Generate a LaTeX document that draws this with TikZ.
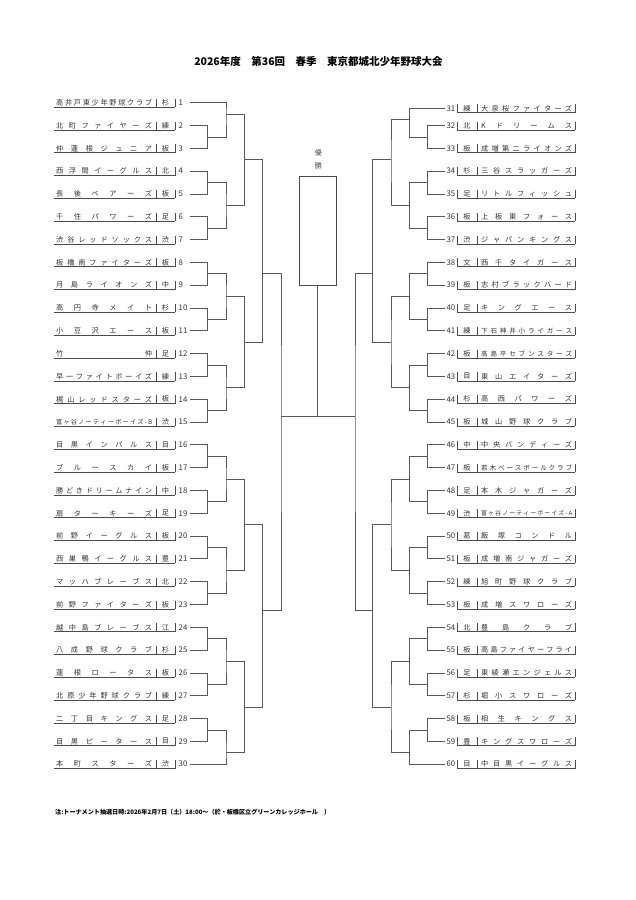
\documentclass[tikz,border=0pt]{standalone}
\usepackage{fontspec}
\setmainfont{Noto Sans CJK JP}
% spread the letters of a name over the whole box
\def\spreadfirst#1{\ifx#1\relax\else#1\expandafter\spreadrest\fi}
\def\spreadrest#1{\ifx#1\relax\else\hfill#1\expandafter\spreadrest\fi}
% left entry: [name style] number, row, name, ward
\newcommand\lteam[5][]{%
  \node[teamname,anchor=west,#1] (n#2) at (56,#3) {\hbox to 96pt{\spreadfirst#4\relax}};
  \node[ward] (w#2) at (165.5,#3) {#5};
  \node[number,anchor=west] (k#2) at (178.5,#3) {#2};
  \coordinate (e#2) at (190,#3);
  \draw[rule] (54,#3+0.39) -- (175.5,#3+0.39) (156,#3-0.35) -- (156,#3+0.39) (175.5,#3-0.35) -- (175.5,#3+0.39);
}
% right entry: [name style] number, row, ward, name
\newcommand\rteam[5][]{%
  \node[number,anchor=east] (k#2) at (455.5,#3) {#2};
  \node[ward] (w#2) at (467,#3) {#4};
  \node[teamname,anchor=west,#1] (n#2) at (481,#3) {\hbox to 91pt{\spreadfirst#5\relax}};
  \coordinate (e#2) at (445,#3);
  \draw[rule] (457,#3+0.39) -- (575.5,#3+0.39) (457,#3-0.35) -- (457,#3+0.39) (477,#3-0.35) -- (477,#3+0.39) (575.5,#3-0.35) -- (575.5,#3+0.39);
}
\begin{document}
\begin{tikzpicture}[x=1pt,y=-11.405pt]
\tikzstyle{teamname}=[inner sep=0pt,text=black!80,font=\fontsize{7.2}{8}\selectfont]
\tikzstyle{ward}=[inner sep=0pt,text=black!80,font=\fontsize{7.2}{8}\selectfont]
\tikzstyle{number}=[inner sep=0pt,text=black!80,font=\fontsize{7.8}{8}\selectfont]
\tikzstyle{rule}=[draw=black!70,line width=0.7pt]
\tikzstyle{bracket}=[draw=black!65,line width=0.8pt]
\path[use as bounding box,fill=white] (0,-9.005) rectangle (636,69.909);
\node[font=\fontsize{10.5}{12}\bfseries] (title) at (318.5,-3.57) {2026年度　第36回　春季　東京都城北少年野球大会};
\node[font=\fontsize{6.1}{7}\bfseries,anchor=west,inner sep=0pt] (note) at (55,62.17) {注:トーナメント抽選日時:2026年2月7日（土）18:00～（於・板橋区立グリーンカレッジホール　）};
\node[font=\fontsize{7}{13}\selectfont,text=black!75,align=center,inner sep=0pt] (win) at (318.3,4.98) {優\\勝};
\node[draw=black!70,line width=0.8pt,minimum width=36.7pt,minimum height=108.3pt,inner sep=0pt] (champ) at (317.7,11.235) {};
% left block
\lteam{1}{0}{高井戸東少年野球クラブ}{杉}
\lteam{2}{2}{北町ファイヤーズ}{練}
\lteam{3}{4}{仲蓮根ジュニア}{板}
\lteam{4}{6}{西浮間イーグルス}{北}
\lteam{5}{8}{長後ベアーズ}{板}
\lteam{6}{10}{千住パワーズ}{足}
\lteam{7}{12}{渋谷レッドソックス}{渋}
\lteam{8}{14}{板橋南ファイターズ}{板}
\lteam{9}{16}{月島ライオンズ}{中}
\lteam{10}{18}{高円寺メイト}{杉}
\lteam{11}{20}{小豆沢エース}{板}
\lteam{12}{22}{竹仲}{足}
\lteam{13}{24}{早一ファイトボーイズ}{練}
\lteam{14}{26}{梶山レッドスターズ}{板}
\lteam[font=\fontsize{6.3}{7}\selectfont]{15}{28}{富ヶ谷ノーティーボーイズ-B}{渋}
\lteam{16}{30}{目黒インパルス}{目}
\lteam{17}{32}{ブルースカイ}{板}
\lteam{18}{34}{勝どきドリームナイン}{中}
\lteam{19}{36}{扇ターキーズ}{足}
\lteam{20}{38}{前野イーグルス}{板}
\lteam{21}{40}{西巣鴨イーグルス}{豊}
\lteam{22}{42}{マッハブレーブス}{北}
\lteam{23}{44}{前野ファイターズ}{板}
\lteam{24}{46}{越中島ブレーブス}{江}
\lteam{25}{48}{八成野球クラブ}{杉}
\lteam{26}{50}{蓮根ロータス}{板}
\lteam{27}{52}{北原少年野球クラブ}{練}
\lteam{28}{54}{二丁目キングス}{足}
\lteam{29}{56}{目黒ピータース}{目}
\lteam{30}{58}{本町スターズ}{渋}
% right block
\rteam{31}{0.5}{練}{大泉桜ファイターズ}
\rteam{32}{2}{北}{Kドリームス}
\rteam{33}{4}{板}{成増第二ライオンズ}
\rteam{34}{6}{杉}{三谷スラッガーズ}
\rteam{35}{8}{足}{リトルフィッシュ}
\rteam{36}{10}{板}{上板東フォース}
\rteam{37}{12}{渋}{ジャパンキングス}
\rteam{38}{14}{文}{西千タイガース}
\rteam{39}{16}{板}{志村ブラックバード}
\rteam{40}{18}{足}{キングエース}
\rteam[font=\fontsize{6.6}{7}\selectfont]{41}{20}{練}{下石神井小ライガース}
\rteam[font=\fontsize{6.6}{7}\selectfont]{42}{22}{板}{高島平セブンスターズ}
\rteam{43}{24}{目}{東山エイターズ}
\rteam{44}{26}{杉}{高西パワーズ}
\rteam{45}{28}{板}{城山野球クラブ}
\rteam{46}{30}{中}{中央バンディーズ}
\rteam[font=\fontsize{6.6}{7}\selectfont]{47}{32}{板}{若木ベースボールクラブ}
\rteam{48}{34}{足}{本木ジャガーズ}
\rteam[font=\fontsize{6}{7}\selectfont]{49}{36}{渋}{富ヶ谷ノーティーボーイズ-A}
\rteam{50}{38}{葛}{飯塚コンドル}
\rteam{51}{40}{板}{成増南ジャガーズ}
\rteam{52}{42}{練}{旭町野球クラブ}
\rteam{53}{44}{板}{成増スワローズ}
\rteam{54}{46}{北}{豊島クラブ}
\rteam{55}{48}{板}{高島ファイヤーフライ}
\rteam{56}{50}{足}{東綾瀬エンジェルス}
\rteam{57}{52}{杉}{堀小スワローズ}
\rteam{58}{54}{板}{相生キングス}
\rteam{59}{56}{豊}{キングスワローズ}
\rteam{60}{58}{目}{中目黒イーグルス}
% left joins
\coordinate (l2t3) at (207.7,3);
\coordinate (l4t5) at (207.7,7);
\coordinate (l6t7) at (207.7,11);
\coordinate (l8t9) at (207.7,15);
\coordinate (l10t11) at (207.7,19);
\coordinate (l12t13) at (207.7,23);
\coordinate (l14t15) at (207.7,27);
\coordinate (l16t17) at (207.7,31);
\coordinate (l18t19) at (207.7,35);
\coordinate (l20t21) at (207.7,39);
\coordinate (l22t23) at (207.7,43);
\coordinate (l24t25) at (207.7,47);
\coordinate (l26t27) at (207.7,51);
\coordinate (l28t29) at (207.7,55);
\coordinate (l1t3) at (226,1);
\coordinate (l4t7) at (226,9);
\coordinate (l8t11) at (226,17);
\coordinate (l12t15) at (226,25);
\coordinate (l16t19) at (226,33);
\coordinate (l20t23) at (226,41);
\coordinate (l24t27) at (226,49);
\coordinate (l28t30) at (226,57);
\coordinate (l1t7) at (244.3,5);
\coordinate (l8t15) at (244.3,21);
\coordinate (l16t23) at (244.3,37);
\coordinate (l24t30) at (244.3,53);
\coordinate (l1t15) at (262.7,15);
\coordinate (l16t30) at (262.7,44.5);
\coordinate (lfin) at (281,27.47);
% right joins
\coordinate (r32t33) at (427.7,3);
\coordinate (r34t35) at (427.7,7);
\coordinate (r36t37) at (427.7,11);
\coordinate (r38t39) at (427.7,15);
\coordinate (r40t41) at (427.7,19);
\coordinate (r42t43) at (427.7,23);
\coordinate (r44t45) at (427.7,27);
\coordinate (r46t47) at (427.7,31);
\coordinate (r48t49) at (427.7,35);
\coordinate (r50t51) at (427.7,39);
\coordinate (r52t53) at (427.7,43);
\coordinate (r54t55) at (427.7,47);
\coordinate (r56t57) at (427.7,51);
\coordinate (r58t59) at (427.7,55);
\coordinate (r31t33) at (409.3,1.5);
\coordinate (r34t37) at (409.3,9);
\coordinate (r38t41) at (409.3,17);
\coordinate (r42t45) at (409.3,25);
\coordinate (r46t49) at (409.3,33);
\coordinate (r50t53) at (409.3,41);
\coordinate (r54t57) at (409.3,49);
\coordinate (r58t60) at (409.3,57);
\coordinate (r31t37) at (391,5);
\coordinate (r38t45) at (391,21);
\coordinate (r46t53) at (391,37);
\coordinate (r54t60) at (391,53);
\coordinate (r31t45) at (372.7,15);
\coordinate (r46t60) at (372.7,44.5);
\coordinate (rfin) at (355,27.47);
% first round
\draw[bracket] (e2) -| (l2t3) |- (e3);
\draw[bracket] (e4) -| (l4t5) |- (e5);
\draw[bracket] (e6) -| (l6t7) |- (e7);
\draw[bracket] (e8) -| (l8t9) |- (e9);
\draw[bracket] (e10) -| (l10t11) |- (e11);
\draw[bracket] (e12) -| (l12t13) |- (e13);
\draw[bracket] (e14) -| (l14t15) |- (e15);
\draw[bracket] (e16) -| (l16t17) |- (e17);
\draw[bracket] (e18) -| (l18t19) |- (e19);
\draw[bracket] (e20) -| (l20t21) |- (e21);
\draw[bracket] (e22) -| (l22t23) |- (e23);
\draw[bracket] (e24) -| (l24t25) |- (e25);
\draw[bracket] (e26) -| (l26t27) |- (e27);
\draw[bracket] (e28) -| (l28t29) |- (e29);
\draw[bracket] (e32) -| (r32t33) |- (e33);
\draw[bracket] (e34) -| (r34t35) |- (e35);
\draw[bracket] (e36) -| (r36t37) |- (e37);
\draw[bracket] (e38) -| (r38t39) |- (e39);
\draw[bracket] (e40) -| (r40t41) |- (e41);
\draw[bracket] (e42) -| (r42t43) |- (e43);
\draw[bracket] (e44) -| (r44t45) |- (e45);
\draw[bracket] (e46) -| (r46t47) |- (e47);
\draw[bracket] (e48) -| (r48t49) |- (e49);
\draw[bracket] (e50) -| (r50t51) |- (e51);
\draw[bracket] (e52) -| (r52t53) |- (e53);
\draw[bracket] (e54) -| (r54t55) |- (e55);
\draw[bracket] (e56) -| (r56t57) |- (e57);
\draw[bracket] (e58) -| (r58t59) |- (e59);
% second round
\draw[bracket] (e1) -| (l1t3) |- (l2t3);
\draw[bracket] (l4t5) -| (l4t7) |- (l6t7);
\draw[bracket] (l8t9) -| (l8t11) |- (l10t11);
\draw[bracket] (l12t13) -| (l12t15) |- (l14t15);
\draw[bracket] (l16t17) -| (l16t19) |- (l18t19);
\draw[bracket] (l20t21) -| (l20t23) |- (l22t23);
\draw[bracket] (l24t25) -| (l24t27) |- (l26t27);
\draw[bracket] (l28t29) -| (l28t30) |- (e30);
\draw[bracket] (e31) -| (r31t33) |- (r32t33);
\draw[bracket] (r34t35) -| (r34t37) |- (r36t37);
\draw[bracket] (r38t39) -| (r38t41) |- (r40t41);
\draw[bracket] (r42t43) -| (r42t45) |- (r44t45);
\draw[bracket] (r46t47) -| (r46t49) |- (r48t49);
\draw[bracket] (r50t51) -| (r50t53) |- (r52t53);
\draw[bracket] (r54t55) -| (r54t57) |- (r56t57);
\draw[bracket] (r58t59) -| (r58t60) |- (e60);
% third round and up
\draw[bracket] (l1t3) -| (l1t7) |- (l4t7);
\draw[bracket] (l8t11) -| (l8t15) |- (l12t15);
\draw[bracket] (l16t19) -| (l16t23) |- (l20t23);
\draw[bracket] (l24t27) -| (l24t30) |- (l28t30);
\draw[bracket] (r31t33) -| (r31t37) |- (r34t37);
\draw[bracket] (r38t41) -| (r38t45) |- (r42t45);
\draw[bracket] (r46t49) -| (r46t53) |- (r50t53);
\draw[bracket] (r54t57) -| (r54t60) |- (r58t60);
\draw[bracket] (l1t7) -| (l1t15) |- (l8t15);
\draw[bracket] (l16t23) -| (l16t30) |- (l24t30);
\draw[bracket] (r31t37) -| (r31t45) |- (r38t45);
\draw[bracket] (r46t53) -| (r46t60) |- (r54t60);
\draw[bracket] (l1t15) -| (lfin) |- (l16t30);
\draw[bracket] (r31t45) -| (rfin) |- (r46t60);
\draw[bracket] (lfin) -- (rfin);
\draw[bracket] (champ.south) -- (champ.south |- lfin);
\end{tikzpicture}
\end{document}
